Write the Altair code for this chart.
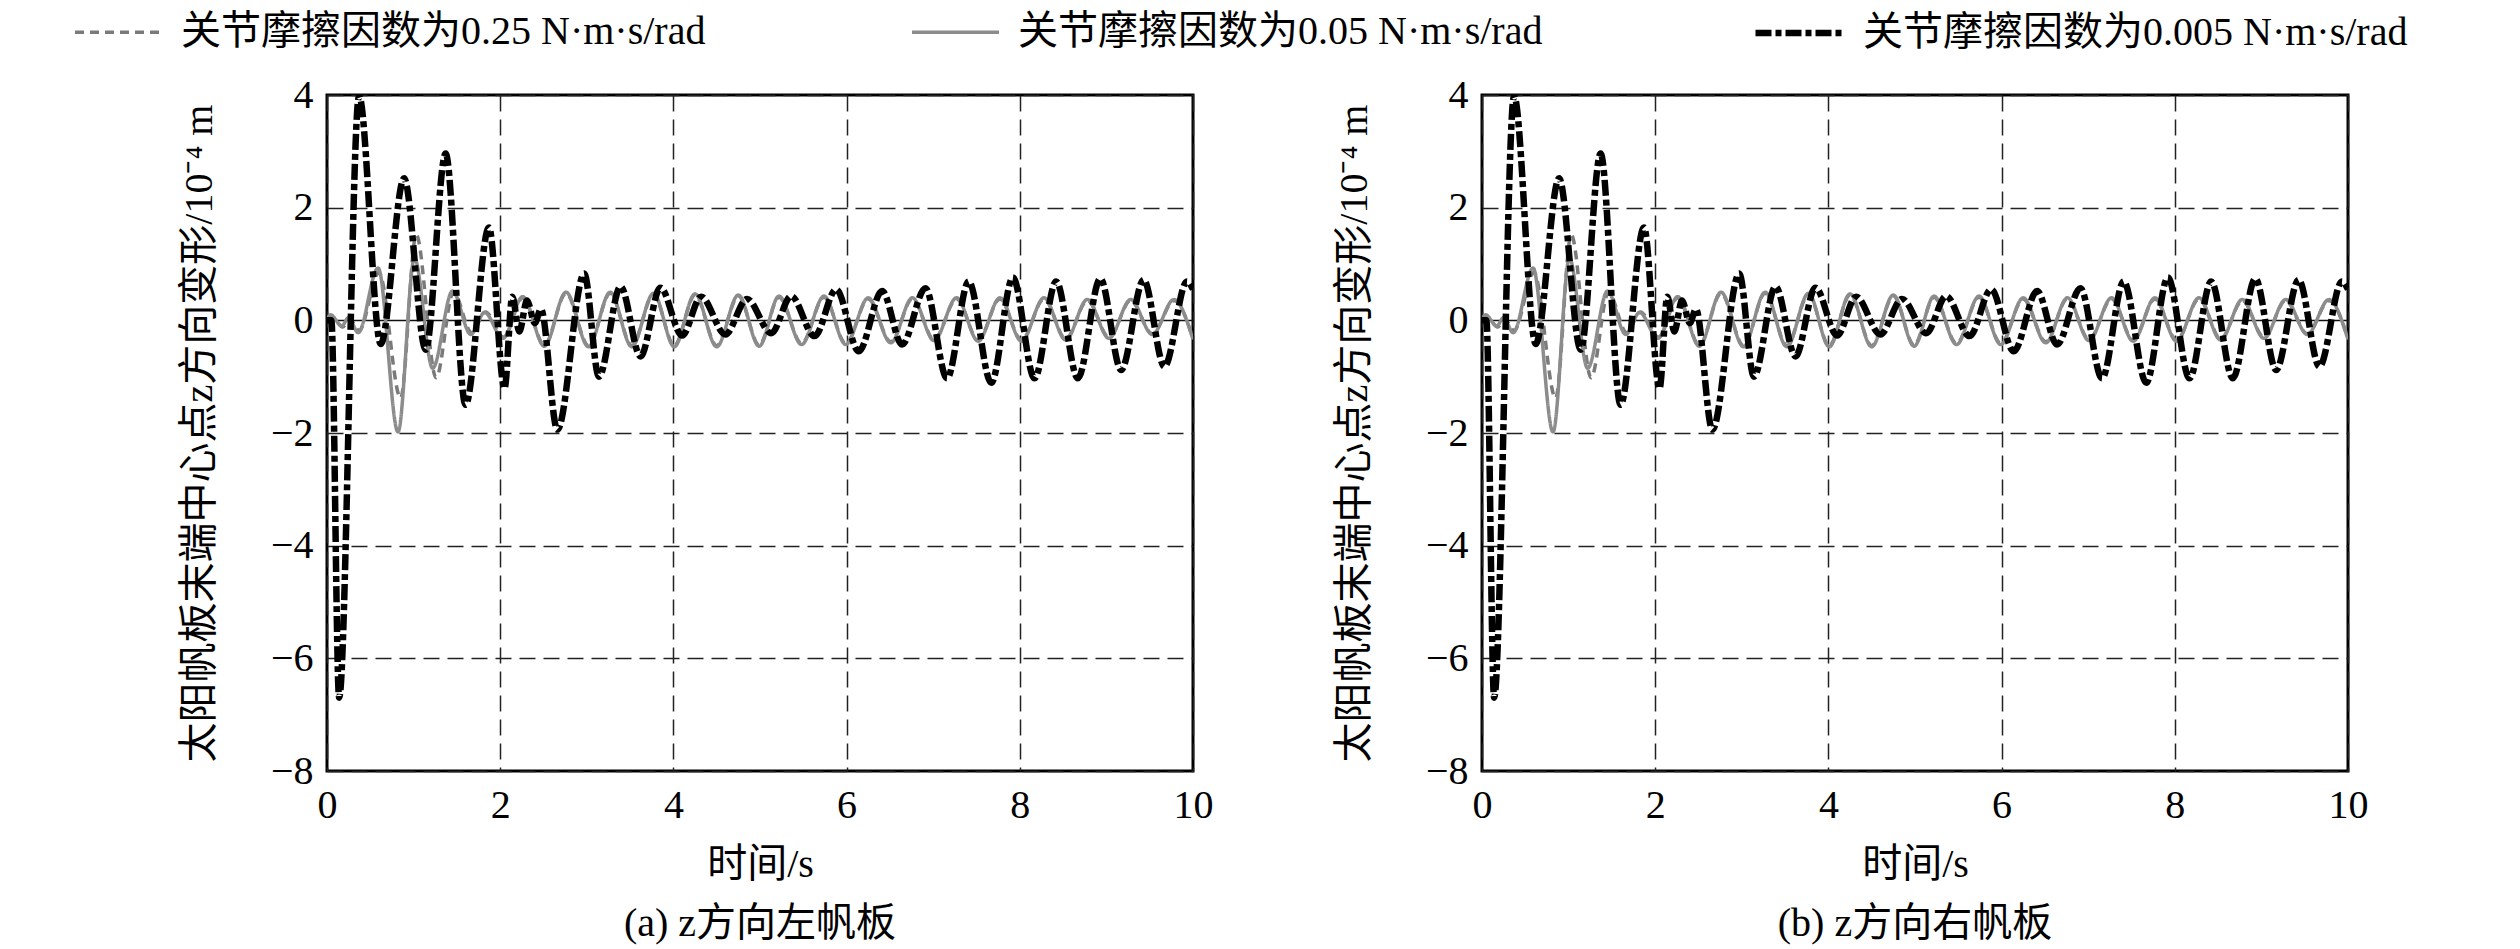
import altair as alt
import pandas as pd

# ---------------- data ----------------
series_names = [
    "关节摩擦因数为0.25 N·m·s/rad",
    "关节摩擦因数为0.05 N·m·s/rad",
    "关节摩擦因数为0.005 N·m·s/rad",
]
series_colors = ["#7a7a7a", "#8c8c8c", "#000000"]
series_dashes = [[9, 6], [1, 0], [16, 4, 6, 4]]
series_widths = [3.5, 3.5, 6.5]

x_ticks = [0, 2, 4, 6, 8, 10]
y_ticks = [4, 2, 0, -2, -4, -6, -8]

# friction 0.25 N·m·s/rad
t_025 = [0.00, 0.06, 0.18, 0.26, 0.37, 0.60, 0.85, 1.03, 1.26, 1.46, 1.67, 1.83,
         2.04, 2.26, 2.51, 2.76, 3.02, 3.27, 3.52, 3.77, 4.01, 4.25, 4.50, 4.75,
         4.99, 5.22, 5.48, 5.74, 5.99, 6.25, 6.51, 6.76, 7.01, 7.27, 7.52, 7.77,
         8.02, 8.28, 8.53, 8.78, 9.03, 9.28, 9.53, 9.78, 10.00]
v_025 = [0.00, 0.06, -0.12, 0.03, -0.18, 0.85, -1.38, 1.52, -1.02, 0.50, -0.22, 0.15,
         -0.30, 0.40, -0.44, 0.48, -0.45, 0.48, -0.45, 0.46, -0.45, 0.45, -0.45, 0.43,
         -0.44, 0.41, -0.41, 0.41, -0.41, 0.38, -0.38, 0.38, -0.34, 0.38, -0.35, 0.38,
         -0.35, 0.38, -0.33, 0.35, -0.30, 0.35, -0.24, 0.35, -0.32]

# friction 0.05 N·m·s/rad
t_005 = [0.00, 0.04, 0.17, 0.25, 0.36, 0.59, 0.82, 1.01, 1.22, 1.45, 1.66, 1.82,
         2.03, 2.26, 2.51, 2.76, 3.02, 3.27, 3.52, 3.77, 4.01, 4.25, 4.50, 4.75,
         4.99, 5.22, 5.48, 5.74, 5.99, 6.25, 6.51, 6.76, 7.01, 7.27, 7.52, 7.77,
         8.02, 8.28, 8.53, 8.78, 9.03, 9.28, 9.53, 9.78, 10.00]
v_005 = [0.00, 0.10, -0.10, 0.05, -0.22, 0.93, -1.98, 1.10, -0.85, 0.52, -0.25, 0.14,
         -0.32, 0.42, -0.46, 0.50, -0.47, 0.50, -0.47, 0.48, -0.47, 0.47, -0.47, 0.45,
         -0.46, 0.43, -0.43, 0.43, -0.43, 0.40, -0.40, 0.40, -0.36, 0.40, -0.37, 0.40,
         -0.37, 0.40, -0.35, 0.37, -0.32, 0.37, -0.25, 0.37, -0.34]

# friction 0.005 N·m·s/rad
t_0005 = [0.00, 0.05, 0.14, 0.37, 0.62, 0.89, 1.14, 1.37, 1.60, 1.87, 2.05, 2.14,
          2.22, 2.31, 2.40, 2.47, 2.66, 2.97, 3.14, 3.39, 3.62, 3.85, 4.10, 4.32,
          4.60, 4.85, 5.13, 5.36, 5.63, 5.88, 6.14, 6.41, 6.64, 6.91, 7.16, 7.41,
          7.67, 7.92, 8.17, 8.42, 8.67, 8.93, 9.17, 9.43, 9.67, 9.93, 10.00]
v_0005 = [0.00, 0.00, -6.70, 3.98, -0.42, 2.52, -0.52, 2.96, -1.50, 1.65, -1.21, 0.42,
          -0.20, 0.35, -0.05, 0.20, -1.94, 0.83, -1.00, 0.60, -0.64, 0.58, -0.27, 0.42,
          -0.25, 0.38, -0.23, 0.43, -0.28, 0.55, -0.55, 0.52, -0.43, 0.57, -1.03, 0.69,
          -1.11, 0.76, -1.03, 0.69, -1.03, 0.74, -0.88, 0.72, -0.82, 0.69, 0.55]

captions = ["(a) z方向左帆板", "(b) z方向右帆板"]
x_title = "时间/s"
y_title = "太阳帆板末端中心点z方向变形/10⁻⁴ m"

# ---------------- build table ----------------
rows = []
for name, ts, vs in zip(series_names, [t_025, t_005, t_0005], [v_025, v_005, v_0005]):
    for t, v in zip(ts, vs):
        rows.append({"series": name, "t": t, "v": v})
df = pd.DataFrame(rows)

FONT = "Liberation Serif, Noto Sans CJK SC"
W, H = 866, 676

leg = alt.Legend(title=None)


def panel(caption):
    return alt.Chart(df).mark_line(interpolate="monotone", clip=True).encode(
        x=alt.X("t:Q",
                scale=alt.Scale(domain=[0, 10], nice=False),
                axis=alt.Axis(values=x_ticks, title=x_title, labelFlush=False,
                              titleX=W / 2, titleY=93, titleBaseline="middle",
                              labelPadding=14)),
        y=alt.Y("v:Q",
                scale=alt.Scale(domain=[-8, 4], nice=False),
                axis=alt.Axis(values=y_ticks, title=y_title,
                              titleX=-128, titleY=H / 2, titleBaseline="middle",
                              labelPadding=14,
                              gridColor={"condition": {"test": "datum.value === 0", "value": "#111111"},
                                         "value": "#222222"},
                              gridDash={"condition": {"test": "datum.value === 0", "value": [1, 0]},
                                        "value": [16, 8]})),
        color=alt.Color("series:N", sort=series_names,
                        scale=alt.Scale(domain=series_names, range=series_colors), legend=leg),
        strokeDash=alt.StrokeDash("series:N", sort=series_names,
                                  scale=alt.Scale(domain=series_names, range=series_dashes), legend=leg),
        strokeWidth=alt.StrokeWidth("series:N", sort=series_names,
                                    scale=alt.Scale(type="ordinal", domain=series_names, range=series_widths),
                                    legend=leg),
    ).properties(
        width=W, height=H,
        title=alt.TitleParams(caption, orient="bottom", anchor="middle", font=FONT,
                              fontSize=40, fontWeight="normal", color="black", offset=20),
    )


chart = alt.hconcat(panel(captions[0]), panel(captions[1]), spacing=117).properties(
    padding={"left": 87, "top": 0, "right": 10, "bottom": 0},
    background="white",
).configure_view(
    stroke="black", strokeWidth=3
).configure_axis(
    domain=False, ticks=False, grid=True,
    gridColor="#222222", gridWidth=1.5, gridDash=[16, 8],
    labelFont=FONT, labelFontSize=40, labelColor="black",
    titleFont=FONT, titleFontSize=40, titleFontWeight="normal", titleColor="black",
).configure_legend(
    orient="none", legendX=-232, legendY=-87, direction="horizontal",
    symbolType="M-2,0H2", symbolSize=1892, labelFont=FONT, labelFontSize=40,
    labelColor="black", labelOffset=39, labelLimit=1000, columnPadding=199,
)

chart.save("out.html", embed_options={"renderer": "svg", "actions": False})
